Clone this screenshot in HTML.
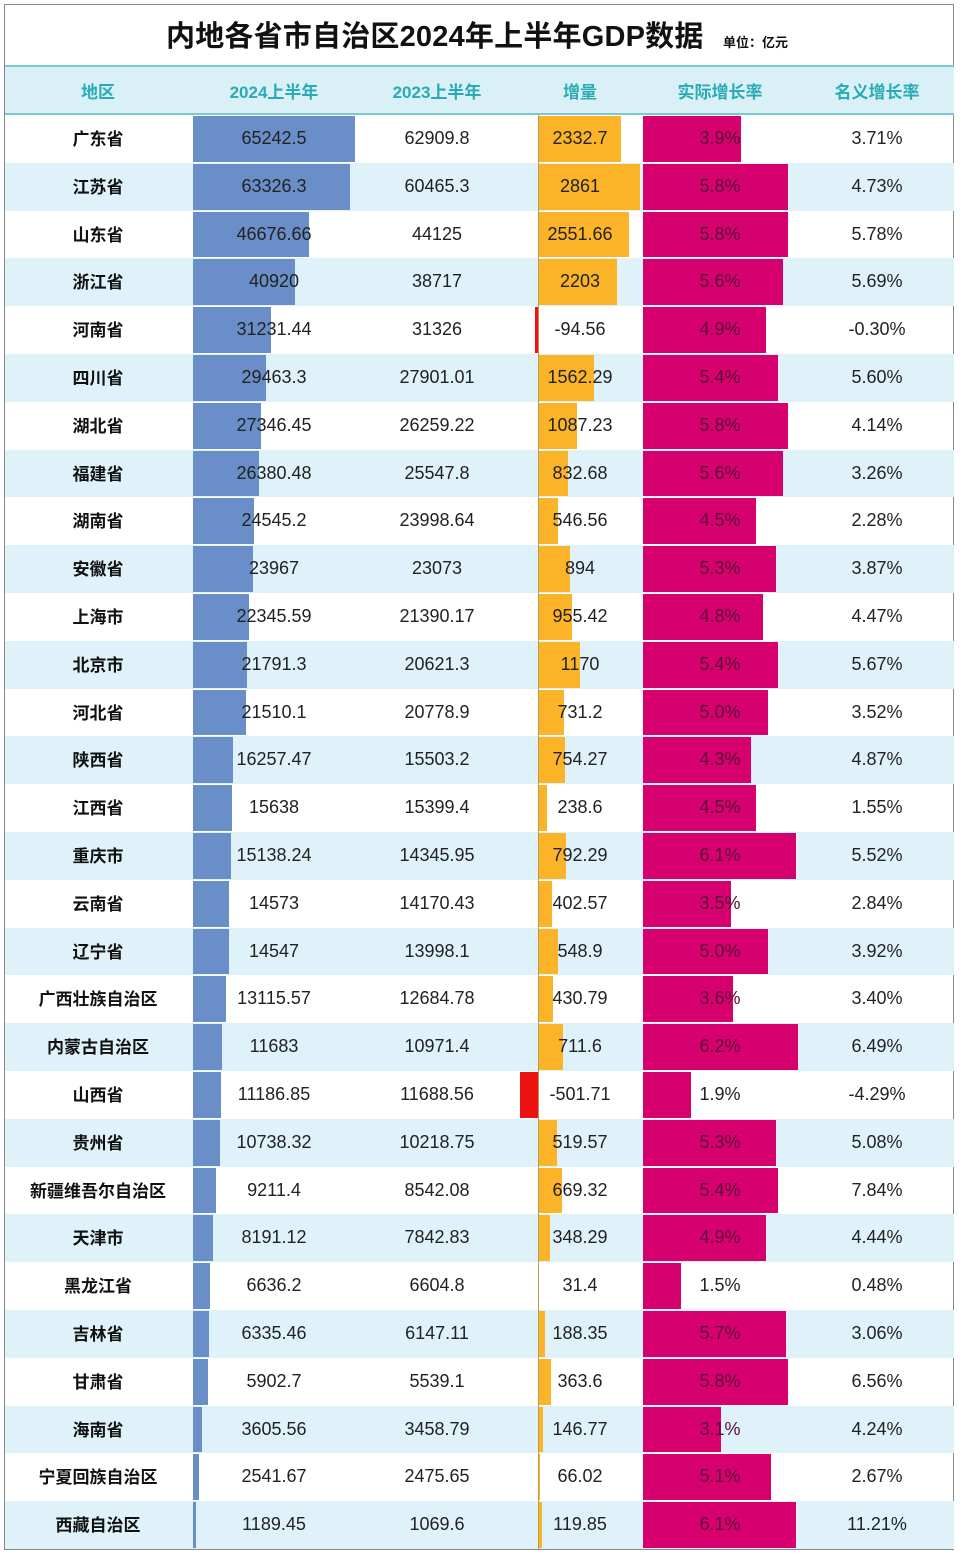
<!DOCTYPE html>
<html><head><meta charset="utf-8"><style>
body{margin:0;background:#fff;width:960px;height:1555px;position:relative;overflow:hidden;font-family:"Liberation Sans","Noto Sans CJK SC",sans-serif}
.frame{position:absolute;left:4px;top:4px;width:950px;height:1546px;border:1px solid #888;box-sizing:border-box}
.title{position:absolute;left:0;top:13px;width:960px;height:44px;}
.title b{position:absolute;left:166px;top:0;font-size:29px;color:#111;white-space:nowrap;letter-spacing:0.2px}
.title i{position:absolute;left:723px;top:19px;font-size:13px;font-style:normal;font-weight:bold;color:#111}
.hdr{position:absolute;left:5px;top:65px;width:949px;height:50px;background:#d8f0f6;border-top:2px solid #7cc8cf;border-bottom:2px solid #7cc8cf;box-sizing:border-box}
.hdr span{position:absolute;top:11px;font-size:17px;font-weight:bold;color:#2aaab4;transform:translateX(-50%);white-space:nowrap}
.r{position:absolute;left:5px;width:949px;height:47.8px}
.r:nth-of-type(even){background:#dff2f9}
.r span{position:absolute;top:13px;font-size:18px;color:#222;transform:translateX(-50%);white-space:nowrap}
.r span.n{font-weight:bold;color:#111;font-size:17px;left:93px;top:10px}
.r span.a{left:269px}.r span.b{left:432px}.r span.c{left:575px}.r span.d{left:715px;color:#5a0c35}.r span.e{left:872px}
.bb{position:absolute;left:188px;top:1px;height:45.8px;background:#6a8fc8}
.ob{position:absolute;left:533px;top:1px;height:45.8px;background:#fbb427}
.ng{position:absolute;top:1px;height:45.8px;background:#ee1111}
.mb{position:absolute;left:638px;top:1px;height:45.8px;background:#d6006f}
.ax{position:absolute;left:533px;top:0;width:1px;height:47.8px;background:#b89a50}
</style></head><body>
<div class="frame"></div>
<div class="title"><b>内地各省市自治区2024年上半年GDP数据</b><i>单位：亿元</i></div>
<div class="hdr"><span style="left:93px">地区</span><span style="left:269px">2024上半年</span><span style="left:432px">2023上半年</span><span style="left:575px">增量</span><span style="left:715px">实际增长率</span><span style="left:872px">名义增长率</span></div>
<div id="rows">
<div class="r" style="top:115.0px"><div class="bb" style="width:162px"></div><div class="ob" style="width:83.2px"></div><div class="mb" style="width:97.5px"></div><div class="ax"></div><span class="n">广东省</span><span class="a">65242.5</span><span class="b">62909.8</span><span class="c">2332.7</span><span class="d">3.9%</span><span class="e">3.71%</span></div>
<div class="r" style="top:162.8px"><div class="bb" style="width:157.2px"></div><div class="ob" style="width:102px"></div><div class="mb" style="width:145px"></div><div class="ax"></div><span class="n">江苏省</span><span class="a">63326.3</span><span class="b">60465.3</span><span class="c">2861</span><span class="d">5.8%</span><span class="e">4.73%</span></div>
<div class="r" style="top:210.6px"><div class="bb" style="width:115.9px"></div><div class="ob" style="width:91px"></div><div class="mb" style="width:145px"></div><div class="ax"></div><span class="n">山东省</span><span class="a">46676.66</span><span class="b">44125</span><span class="c">2551.66</span><span class="d">5.8%</span><span class="e">5.78%</span></div>
<div class="r" style="top:258.4px"><div class="bb" style="width:101.6px"></div><div class="ob" style="width:78.5px"></div><div class="mb" style="width:140px"></div><div class="ax"></div><span class="n">浙江省</span><span class="a">40920</span><span class="b">38717</span><span class="c">2203</span><span class="d">5.6%</span><span class="e">5.69%</span></div>
<div class="r" style="top:306.2px"><div class="bb" style="width:77.5px"></div><div class="ng" style="left:529.6px;width:3.4px"></div><div class="mb" style="width:122.5px"></div><div class="ax"></div><span class="n">河南省</span><span class="a">31231.44</span><span class="b">31326</span><span class="c">-94.56</span><span class="d">4.9%</span><span class="e">-0.30%</span></div>
<div class="r" style="top:354.0px"><div class="bb" style="width:73.2px"></div><div class="ob" style="width:55.7px"></div><div class="mb" style="width:135px"></div><div class="ax"></div><span class="n">四川省</span><span class="a">29463.3</span><span class="b">27901.01</span><span class="c">1562.29</span><span class="d">5.4%</span><span class="e">5.60%</span></div>
<div class="r" style="top:401.8px"><div class="bb" style="width:67.9px"></div><div class="ob" style="width:38.8px"></div><div class="mb" style="width:145px"></div><div class="ax"></div><span class="n">湖北省</span><span class="a">27346.45</span><span class="b">26259.22</span><span class="c">1087.23</span><span class="d">5.8%</span><span class="e">4.14%</span></div>
<div class="r" style="top:449.6px"><div class="bb" style="width:65.5px"></div><div class="ob" style="width:29.7px"></div><div class="mb" style="width:140px"></div><div class="ax"></div><span class="n">福建省</span><span class="a">26380.48</span><span class="b">25547.8</span><span class="c">832.68</span><span class="d">5.6%</span><span class="e">3.26%</span></div>
<div class="r" style="top:497.4px"><div class="bb" style="width:60.9px"></div><div class="ob" style="width:19.5px"></div><div class="mb" style="width:112.5px"></div><div class="ax"></div><span class="n">湖南省</span><span class="a">24545.2</span><span class="b">23998.64</span><span class="c">546.56</span><span class="d">4.5%</span><span class="e">2.28%</span></div>
<div class="r" style="top:545.2px"><div class="bb" style="width:59.5px"></div><div class="ob" style="width:31.9px"></div><div class="mb" style="width:132.5px"></div><div class="ax"></div><span class="n">安徽省</span><span class="a">23967</span><span class="b">23073</span><span class="c">894</span><span class="d">5.3%</span><span class="e">3.87%</span></div>
<div class="r" style="top:593.0px"><div class="bb" style="width:55.5px"></div><div class="ob" style="width:34.1px"></div><div class="mb" style="width:120px"></div><div class="ax"></div><span class="n">上海市</span><span class="a">22345.59</span><span class="b">21390.17</span><span class="c">955.42</span><span class="d">4.8%</span><span class="e">4.47%</span></div>
<div class="r" style="top:640.8px"><div class="bb" style="width:54.1px"></div><div class="ob" style="width:41.7px"></div><div class="mb" style="width:135px"></div><div class="ax"></div><span class="n">北京市</span><span class="a">21791.3</span><span class="b">20621.3</span><span class="c">1170</span><span class="d">5.4%</span><span class="e">5.67%</span></div>
<div class="r" style="top:688.6px"><div class="bb" style="width:53.4px"></div><div class="ob" style="width:26.1px"></div><div class="mb" style="width:125px"></div><div class="ax"></div><span class="n">河北省</span><span class="a">21510.1</span><span class="b">20778.9</span><span class="c">731.2</span><span class="d">5.0%</span><span class="e">3.52%</span></div>
<div class="r" style="top:736.4px"><div class="bb" style="width:40.4px"></div><div class="ob" style="width:26.9px"></div><div class="mb" style="width:107.5px"></div><div class="ax"></div><span class="n">陕西省</span><span class="a">16257.47</span><span class="b">15503.2</span><span class="c">754.27</span><span class="d">4.3%</span><span class="e">4.87%</span></div>
<div class="r" style="top:784.2px"><div class="bb" style="width:38.8px"></div><div class="ob" style="width:8.5px"></div><div class="mb" style="width:112.5px"></div><div class="ax"></div><span class="n">江西省</span><span class="a">15638</span><span class="b">15399.4</span><span class="c">238.6</span><span class="d">4.5%</span><span class="e">1.55%</span></div>
<div class="r" style="top:832.0px"><div class="bb" style="width:37.6px"></div><div class="ob" style="width:28.2px"></div><div class="mb" style="width:152.5px"></div><div class="ax"></div><span class="n">重庆市</span><span class="a">15138.24</span><span class="b">14345.95</span><span class="c">792.29</span><span class="d">6.1%</span><span class="e">5.52%</span></div>
<div class="r" style="top:879.8px"><div class="bb" style="width:36.2px"></div><div class="ob" style="width:14.4px"></div><div class="mb" style="width:87.5px"></div><div class="ax"></div><span class="n">云南省</span><span class="a">14573</span><span class="b">14170.43</span><span class="c">402.57</span><span class="d">3.5%</span><span class="e">2.84%</span></div>
<div class="r" style="top:927.6px"><div class="bb" style="width:36.1px"></div><div class="ob" style="width:19.6px"></div><div class="mb" style="width:125px"></div><div class="ax"></div><span class="n">辽宁省</span><span class="a">14547</span><span class="b">13998.1</span><span class="c">548.9</span><span class="d">5.0%</span><span class="e">3.92%</span></div>
<div class="r" style="top:975.4px"><div class="bb" style="width:32.6px"></div><div class="ob" style="width:15.4px"></div><div class="mb" style="width:90px"></div><div class="ax"></div><span class="n">广西壮族自治区</span><span class="a">13115.57</span><span class="b">12684.78</span><span class="c">430.79</span><span class="d">3.6%</span><span class="e">3.40%</span></div>
<div class="r" style="top:1023.2px"><div class="bb" style="width:29px"></div><div class="ob" style="width:25.4px"></div><div class="mb" style="width:155px"></div><div class="ax"></div><span class="n">内蒙古自治区</span><span class="a">11683</span><span class="b">10971.4</span><span class="c">711.6</span><span class="d">6.2%</span><span class="e">6.49%</span></div>
<div class="r" style="top:1071.0px"><div class="bb" style="width:27.8px"></div><div class="ng" style="left:515.1px;width:17.9px"></div><div class="mb" style="width:47.5px"></div><div class="ax"></div><span class="n">山西省</span><span class="a">11186.85</span><span class="b">11688.56</span><span class="c">-501.71</span><span class="d" style="color:#222">1.9%</span><span class="e">-4.29%</span></div>
<div class="r" style="top:1118.8px"><div class="bb" style="width:26.7px"></div><div class="ob" style="width:18.5px"></div><div class="mb" style="width:132.5px"></div><div class="ax"></div><span class="n">贵州省</span><span class="a">10738.32</span><span class="b">10218.75</span><span class="c">519.57</span><span class="d">5.3%</span><span class="e">5.08%</span></div>
<div class="r" style="top:1166.6px"><div class="bb" style="width:22.9px"></div><div class="ob" style="width:23.9px"></div><div class="mb" style="width:135px"></div><div class="ax"></div><span class="n">新疆维吾尔自治区</span><span class="a">9211.4</span><span class="b">8542.08</span><span class="c">669.32</span><span class="d">5.4%</span><span class="e">7.84%</span></div>
<div class="r" style="top:1214.4px"><div class="bb" style="width:20.3px"></div><div class="ob" style="width:12.4px"></div><div class="mb" style="width:122.5px"></div><div class="ax"></div><span class="n">天津市</span><span class="a">8191.12</span><span class="b">7842.83</span><span class="c">348.29</span><span class="d">4.9%</span><span class="e">4.44%</span></div>
<div class="r" style="top:1262.2px"><div class="bb" style="width:16.5px"></div><div class="ob" style="width:1.1px"></div><div class="mb" style="width:37.5px"></div><div class="ax"></div><span class="n">黑龙江省</span><span class="a">6636.2</span><span class="b">6604.8</span><span class="c">31.4</span><span class="d" style="color:#222">1.5%</span><span class="e">0.48%</span></div>
<div class="r" style="top:1310.0px"><div class="bb" style="width:15.7px"></div><div class="ob" style="width:6.7px"></div><div class="mb" style="width:142.5px"></div><div class="ax"></div><span class="n">吉林省</span><span class="a">6335.46</span><span class="b">6147.11</span><span class="c">188.35</span><span class="d">5.7%</span><span class="e">3.06%</span></div>
<div class="r" style="top:1357.8px"><div class="bb" style="width:14.7px"></div><div class="ob" style="width:13px"></div><div class="mb" style="width:145px"></div><div class="ax"></div><span class="n">甘肃省</span><span class="a">5902.7</span><span class="b">5539.1</span><span class="c">363.6</span><span class="d">5.8%</span><span class="e">6.56%</span></div>
<div class="r" style="top:1405.6px"><div class="bb" style="width:9px"></div><div class="ob" style="width:5.2px"></div><div class="mb" style="width:77.5px"></div><div class="ax"></div><span class="n">海南省</span><span class="a">3605.56</span><span class="b">3458.79</span><span class="c">146.77</span><span class="d">3.1%</span><span class="e">4.24%</span></div>
<div class="r" style="top:1453.4px"><div class="bb" style="width:6.3px"></div><div class="ob" style="width:2.4px"></div><div class="mb" style="width:127.5px"></div><div class="ax"></div><span class="n">宁夏回族自治区</span><span class="a">2541.67</span><span class="b">2475.65</span><span class="c">66.02</span><span class="d">5.1%</span><span class="e">2.67%</span></div>
<div class="r" style="top:1501.2px"><div class="bb" style="width:3px"></div><div class="ob" style="width:4.3px"></div><div class="mb" style="width:152.5px"></div><div class="ax"></div><span class="n">西藏自治区</span><span class="a">1189.45</span><span class="b">1069.6</span><span class="c">119.85</span><span class="d">6.1%</span><span class="e">11.21%</span></div>
</div>
</body></html>
